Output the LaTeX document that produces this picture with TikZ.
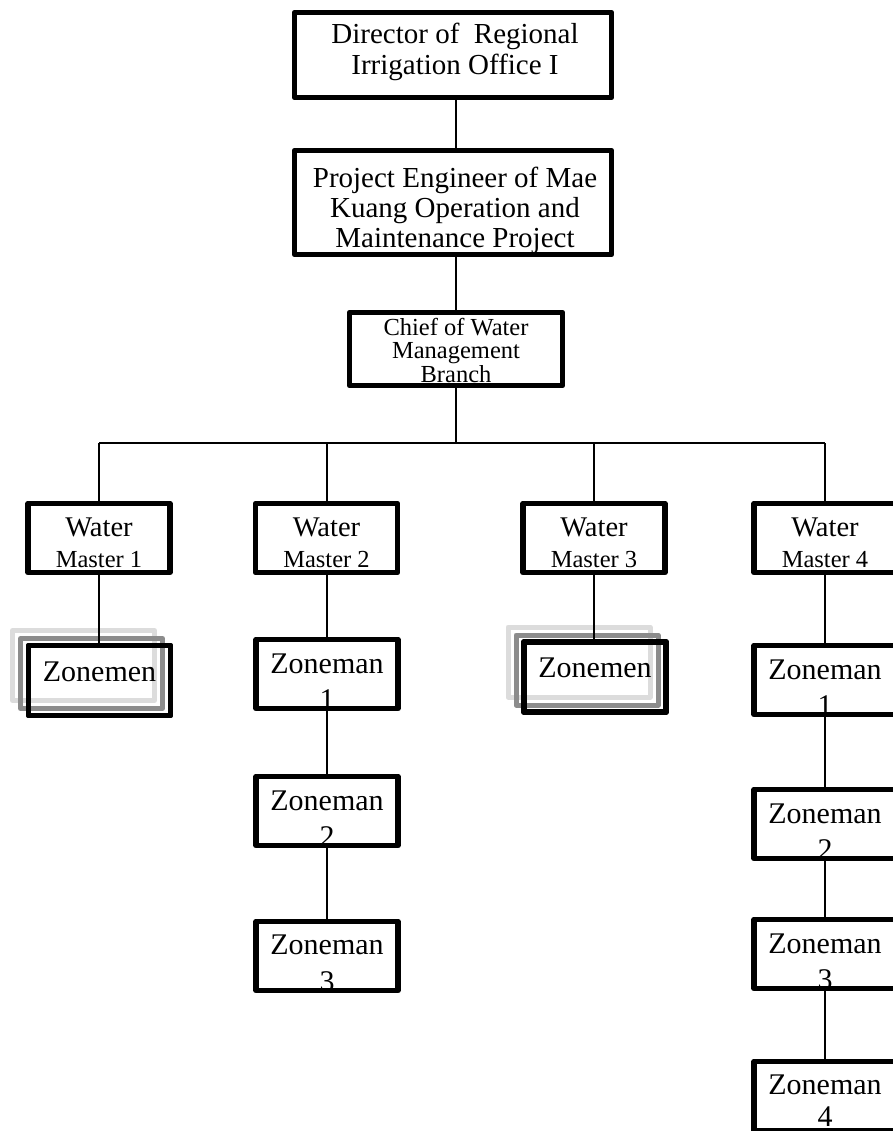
\documentclass[tikz,border=0pt]{standalone}
\usepackage{fontspec}
\setmainfont{Liberation Serif}
\definecolor{shadelight}{HTML}{DCDCDC}
\definecolor{shadedark}{HTML}{8C8C8C}
\begin{document}
\begin{tikzpicture}[x=1pt,y=-1pt,
  orgbox/.style={draw, line width=5.5pt, line join=round, inner sep=0pt, outer sep=0pt},
  widebox/.style={orgbox, minimum width=317pt},
  unitbox/.style={orgbox, minimum width=142pt, minimum height=69pt},
  link/.style={line width=2pt},
  shadowA/.style={draw=shadelight, line width=5pt, line join=round},
  shadowB/.style={draw=shadedark, line width=5pt, line join=round},
  bigtxt/.style={font=\fontsize{29}{31}\selectfont, align=center, inner sep=0pt},
  projtxt/.style={font=\fontsize{29}{30}\selectfont, align=center, inner sep=0pt},
  midtxt/.style={font=\fontsize{24.5}{23.5}\selectfont, align=center, inner sep=0pt},
  wtxt/.style={font=\fontsize{28.5}{30}\selectfont, inner sep=0pt, anchor=base},
  mtxt/.style={font=\fontsize{24.5}{26}\selectfont, inner sep=0pt, anchor=base},
  ztxt/.style={font=\fontsize{30}{32}\selectfont, inner sep=0pt, anchor=base}]
\useasboundingbox (0,0) rectangle (893,1131);
\clip (0,0) rectangle (893,1131);

% --- boxes ---
\node[widebox, minimum height=85pt] (director) at (453,55) {};
\node[widebox, minimum height=104pt] (project) at (453,202.5) {};
\node[orgbox, minimum width=213pt, minimum height=73pt] (chief) at (456,349) {};

\node[unitbox] (wm1) at (99,538) {};
\node[unitbox] (wm2) at (326.5,538) {};
\node[unitbox] (wm3) at (594,538) {};
\node[unitbox] (wm4) at (825,538) {};

% grouped zonemen with stacked outlines behind
\node[unitbox, minimum height=70pt] (zm1) at (99.5,680.5) {};
\node[unitbox, minimum height=70pt] (zm3) at (595,677) {};
\foreach \z in {zm1,zm3}{
  \draw[shadowA] ([shift={(-16,-15)}]\z.south west) rectangle ([shift={(-16,-15)}]\z.north east);
  \draw[shadowB] ([shift={(-8,-7)}]\z.south west) rectangle ([shift={(-8,-7)}]\z.north east);
  \draw[orgbox] (\z.south west) rectangle (\z.north east);
}

\node[unitbox] (z21) at (327,674) {};
\node[unitbox] (z22) at (327,811) {};
\node[unitbox] (z23) at (327,956) {};

\node[unitbox] (z41) at (825,680) {};
\node[unitbox] (z42) at (825,824) {};
\node[unitbox] (z43) at (825,954) {};
\node[unitbox] (z44) at (825,1096) {};

% --- connectors ---
\coordinate (busy) at (0,443);
\draw[link] (director.south -| chief.south) -- (project.north -| chief.south);
\draw[link] (project.south -| chief.south) -- (chief.north);
\draw[link] (chief.south) -- (chief.south |- busy);
\draw[link] (wm1.north |- busy) -- (wm4.north |- busy);
\foreach \w in {wm1,wm2,wm3,wm4}
  \draw[link] (\w.north |- busy) -- (\w.north);
\draw[link] (wm1.south) -- (wm1.south |- zm1.north);
\draw[link] (wm2.south -| z21.north) -- (z21.north);
\draw[link] (z21.south) -- (z22.north);
\draw[link] (z22.south) -- (z23.north);
\draw[link] (wm3.south) -- (wm3.south |- zm3.north);
\draw[link] (wm4.south) -- (z41.north);
\draw[link] (z41.south) -- (z42.north);
\draw[link] (z42.south) -- (z43.north);
\draw[link] (z43.south) -- (z44.north);

% --- texts ---
\node[bigtxt] (directort) at (455,51.6) {Director of\ \ Regional\\Irrigation Office I};
\node[projtxt] (projectt) at (455,210) {Project Engineer of Mae\\Kuang Operation and\\Maintenance Project};
\node[midtxt] (chieft) at (456,350) {Chief of Water\\Management\\Branch};

\foreach \w/\n in {wm1/1,wm2/2,wm3/3,wm4/4}{
  \node[wtxt] (\w a) at (\w.center |- 0,536) {Water};
  \node[mtxt] (\w b) at (\w.center |- 0,567) {Master \n};
}

\node[ztxt] (zm1t) at (zm1.center |- 0,681) {Zonemen};
\node[ztxt] (zm3t) at (zm3.center |- 0,677) {Zonemen};

\node[ztxt] (z21a) at (z21.center |- 0,673) {Zoneman};
\node[ztxt] (z21b) at (z21.center |- 0,709) {1};
\node[ztxt] (z22a) at (z22.center |- 0,810) {Zoneman};
\node[ztxt] (z22b) at (z22.center |- 0,846) {2};
\node[ztxt] (z23a) at (z23.center |- 0,954) {Zoneman};
\node[ztxt] (z23b) at (z23.center |- 0,991) {3};

\node[ztxt] (z41a) at (z41.center |- 0,679) {Zoneman};
\node[ztxt] (z41b) at (z41.center |- 0,715) {1};
\node[ztxt] (z42a) at (z42.center |- 0,823) {Zoneman};
\node[ztxt] (z42b) at (z42.center |- 0,859) {2};
\node[ztxt] (z43a) at (z43.center |- 0,953) {Zoneman};
\node[ztxt] (z43b) at (z43.center |- 0,989) {3};
\node[ztxt] (z44a) at (z44.center |- 0,1094) {Zoneman};
\node[ztxt] (z44b) at (z44.center |- 0,1126) {4};
\end{tikzpicture}
\end{document}
